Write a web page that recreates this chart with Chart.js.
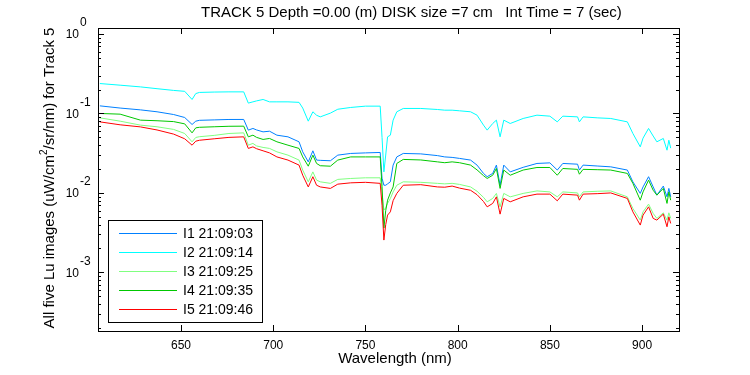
<!DOCTYPE html>
<html>
<head>
<meta charset="utf-8">
<script src="https://cdn.jsdelivr.net/npm/chart.js@4/dist/chart.umd.min.js"></script>
<style>
html,body{margin:0;padding:0;background:#fff;}
canvas{display:block;}
</style>
</head>
<body>
<canvas id="c" width="750" height="375"></canvas>
<script>
// ---- data ----
const wavelengths = [606, 617, 628, 637, 646, 652, 656, 658, 660, 668, 676, 684, 686.5, 689, 691, 694.5, 698, 702, 708, 714, 716, 719, 721.5, 723.5, 725.5, 731, 735, 742, 750, 758, 759, 760, 761, 762, 763.5, 765, 767, 770.5, 780, 789, 793, 797, 801, 807, 810.5, 814, 816, 819, 821, 823, 825, 828.5, 835.5, 843, 850, 854, 857, 865, 866, 868, 876, 883, 892, 895, 899, 900.5, 903.5, 906, 908, 911.5, 913.5, 914.5, 915.5];

const seriesI1 = [0.1247, 0.117, 0.111, 0.105, 0.097, 0.089, 0.0727, 0.080, 0.082, 0.083, 0.084, 0.0841, 0.0617, 0.0648, 0.062, 0.0587, 0.0598, 0.0533, 0.0508, 0.0440, 0.0329, 0.0246, 0.0339, 0.0259, 0.0257, 0.0254, 0.0299, 0.0314, 0.0319, 0.0323, 0.0153, 0.0125, 0.0125, 0.0130, 0.0138, 0.0224, 0.0284, 0.0314, 0.0310, 0.0295, 0.0284, 0.0280, 0.0272, 0.0259, 0.0224, 0.0176, 0.0160, 0.0176, 0.0224, 0.0125, 0.0224, 0.0184, 0.0210, 0.0235, 0.0239, 0.0194, 0.0235, 0.0230, 0.0194, 0.0224, 0.0218, 0.0213, 0.0194, 0.0138, 0.00986, 0.0119, 0.0160, 0.0119, 0.00938, 0.0122, 0.00893, 0.0114, 0.00893];

const seriesI2 = [0.238, 0.227, 0.216, 0.205, 0.195, 0.19, 0.150, 0.178, 0.184, 0.186, 0.187, 0.187, 0.135, 0.140, 0.144, 0.150, 0.140, 0.140, 0.140, 0.138, 0.117, 0.080, 0.105, 0.095, 0.0906, 0.101, 0.113, 0.119, 0.1236, 0.1236, 0.050, 0.0184, 0.030, 0.0508, 0.0533, 0.0824, 0.105, 0.1156, 0.1156, 0.1122, 0.110, 0.110, 0.108, 0.105, 0.0952, 0.0713, 0.0617, 0.0748, 0.0824, 0.0508, 0.0824, 0.0748, 0.0865, 0.0952, 0.0925, 0.0784, 0.0925, 0.0906, 0.0784, 0.0906, 0.088, 0.0865, 0.0784, 0.0560, 0.0380, 0.0489, 0.0648, 0.0520, 0.0440, 0.0485, 0.0345, 0.0461, 0.0366];

const seriesI3 = [0.0881, 0.080, 0.0713, 0.068, 0.063, 0.056, 0.0440, 0.0499, 0.051, 0.053, 0.056, 0.0570, 0.0399, 0.0420, 0.039, 0.0374, 0.0363, 0.0329, 0.0299, 0.0259, 0.0194, 0.0138, 0.0184, 0.0145, 0.0138, 0.0132, 0.0148, 0.0152, 0.0155, 0.0155, 0.010, 0.00608, 0.0065, 0.0074, 0.0085, 0.0103, 0.0125, 0.0138, 0.0136, 0.0132, 0.0130, 0.0132, 0.0128, 0.0119, 0.0105, 0.0088, 0.00773, 0.00853, 0.00986, 0.00668, 0.00986, 0.00893, 0.00986, 0.0106, 0.0103, 0.00893, 0.0103, 0.0100, 0.00893, 0.0103, 0.0105, 0.0106, 0.00893, 0.00638, 0.00455, 0.00578, 0.00723, 0.00552, 0.00478, 0.00562, 0.00455, 0.00562, 0.00478];

const seriesI4 = [0.100, 0.098, 0.0824, 0.081, 0.079, 0.074, 0.0570, 0.0659, 0.067, 0.068, 0.069, 0.0692, 0.0508, 0.0533, 0.050, 0.0471, 0.0485, 0.0440, 0.0399, 0.0363, 0.0284, 0.0217, 0.0299, 0.0235, 0.022, 0.0217, 0.0259, 0.0284, 0.0284, 0.0284, 0.012, 0.00361, 0.0060, 0.0081, 0.0100, 0.0119, 0.0235, 0.0264, 0.0260, 0.0246, 0.0240, 0.0246, 0.0240, 0.0224, 0.0195, 0.0165, 0.0152, 0.0167, 0.0203, 0.0114, 0.0194, 0.0167, 0.0194, 0.0209, 0.0209, 0.0167, 0.0203, 0.0198, 0.0172, 0.0198, 0.0196, 0.0194, 0.0176, 0.0132, 0.0081, 0.0103, 0.0145, 0.0108, 0.00938, 0.0114, 0.00738, 0.0103, 0.0081];

const seriesI5 = [0.0784, 0.072, 0.0678, 0.062, 0.055, 0.048, 0.0399, 0.0448, 0.046, 0.048, 0.050, 0.0508, 0.0363, 0.0380, 0.036, 0.0339, 0.0319, 0.0284, 0.0259, 0.0224, 0.0167, 0.0119, 0.0160, 0.0125, 0.0119, 0.0114, 0.0129, 0.0134, 0.0136, 0.0132, 0.007, 0.00255, 0.0040, 0.00526, 0.00578, 0.0080, 0.00986, 0.0125, 0.0127, 0.0119, 0.0118, 0.0122, 0.0115, 0.0108, 0.0095, 0.0078, 0.00668, 0.00738, 0.00893, 0.00541, 0.00853, 0.00773, 0.00893, 0.00966, 0.00966, 0.00796, 0.00966, 0.00938, 0.00811, 0.00966, 0.0098, 0.0100, 0.00853, 0.00578, 0.00394, 0.00526, 0.00668, 0.00478, 0.00455, 0.00541, 0.00375, 0.0050, 0.00413];

const seriesLabels = ['I1 21:09:03', 'I2 21:09:14', 'I3 21:09:25', 'I4 21:09:35', 'I5 21:09:46'];
const seriesColors = ['#0080ff', '#00ffff', '#80ff80', '#00c800', '#ff0000'];
const xTicks = [650, 700, 750, 800, 850, 900];
const yDecades = [0, -1, -2, -3];
const chartTitle = 'TRACK 5 Depth =0.00 (m) DISK size =7 cm   Int Time = 7 (sec)';
const xTitle = 'Wavelength (nm)';
const yTitleParts = ['All five Lu images (uW/cm', '2', '/sr/nm) for Track 5'];

const allSeries = [seriesI1, seriesI2, seriesI3, seriesI4, seriesI5];
const FONT = '"Liberation Sans", Arial, Helvetica, sans-serif';

const datasets = allSeries.map((s, i) => ({
  label: seriesLabels[i],
  data: wavelengths.map((w, j) => ({x: w, y: s[j]})),
  borderColor: seriesColors[i],
  backgroundColor: seriesColors[i],
  borderWidth: 1,
  pointRadius: 0,
  tension: 0,
  fill: false,
  order: allSeries.length - i
}));

const decor = {
  id: 'decor',
  afterDraw(chart) {
    const ctx = chart.ctx;
    const a = chart.chartArea;
    const xs = chart.scales.x, ys = chart.scales.y;
    ctx.save();
    ctx.strokeStyle = '#000';
    ctx.fillStyle = '#000';
    ctx.lineWidth = 1;
    // box
    ctx.strokeRect(a.left + 0.5, a.top + 0.5, a.right - a.left, a.bottom - a.top);
    // x ticks
    ctx.beginPath();
    xTicks.forEach(v => {
      const px = Math.round(xs.getPixelForValue(v)) + 0.5;
      ctx.moveTo(px, a.bottom); ctx.lineTo(px, a.bottom - 6);
      ctx.moveTo(px, a.top); ctx.lineTo(px, a.top + 6);
    });
    // y ticks (major + minor)
    for (let k = -4; k <= 0; k++) {
      for (let m = 1; m <= 9; m++) {
        const v = m * Math.pow(10, k);
        if (v < ys.min || v > ys.max) continue;
        const py = Math.round(ys.getPixelForValue(v)) + 0.5;
        const len = m === 1 ? 6 : 3;
        ctx.moveTo(a.left, py); ctx.lineTo(a.left + len, py);
        ctx.moveTo(a.right, py); ctx.lineTo(a.right - len, py);
      }
    }
    ctx.stroke();
    // x tick labels
    ctx.font = '12px ' + FONT;
    ctx.textAlign = 'center';
    ctx.textBaseline = 'middle';
    xTicks.forEach(v => {
      ctx.fillText(String(v), xs.getPixelForValue(v), 346);
    });
    // y tick labels 10^k
    yDecades.forEach(k => {
      const py = ys.getPixelForValue(Math.pow(10, k));
      ctx.font = '12px ' + FONT;
      ctx.textAlign = 'right';
      ctx.fillText('10', 79, py + 1);
      ctx.textAlign = 'left';
      ctx.fillText(String(k).replace('-', '-'), 80, py - 11);
    });
    // x title
    ctx.font = '15px ' + FONT;
    ctx.textAlign = 'center';
    ctx.fillText(xTitle, 395, 359);
    // chart title
    ctx.textAlign = 'left';
    ctx.fillText(chartTitle, 201, 13);
    // y title (rotated, with superscript)
    ctx.save();
    ctx.translate(50, 178);
    ctx.rotate(-Math.PI / 2);
    ctx.font = '15px ' + FONT;
    const w1 = ctx.measureText(yTitleParts[0]).width;
    ctx.font = '10px ' + FONT;
    const w2 = ctx.measureText(yTitleParts[1]).width;
    ctx.font = '15px ' + FONT;
    const w3 = ctx.measureText(yTitleParts[2]).width;
    let xx = -(w1 + w2 + w3) / 2;
    ctx.textAlign = 'left';
    ctx.fillText(yTitleParts[0], xx, 0); xx += w1;
    ctx.font = '10px ' + FONT;
    ctx.fillText(yTitleParts[1], xx, -6); xx += w2;
    ctx.font = '15px ' + FONT;
    ctx.fillText(yTitleParts[2], xx, 0);
    ctx.restore();
    // legend
    const lx = 108, ly = 220, lw = 154, lh = 102;
    ctx.fillStyle = '#fff';
    ctx.fillRect(lx, ly, lw, lh);
    ctx.strokeStyle = '#000';
    ctx.strokeRect(lx + 0.5, ly + 0.5, lw, lh);
    ctx.font = '14px ' + FONT;
    ctx.textAlign = 'left';
    ctx.textBaseline = 'middle';
    chart.data.datasets.forEach((ds, i) => {
      const ry = ly + 13 + i * 19;
      ctx.strokeStyle = ds.borderColor;
      ctx.beginPath();
      ctx.moveTo(119, ry + 0.5); ctx.lineTo(177, ry + 0.5);
      ctx.stroke();
      ctx.fillStyle = '#000';
      ctx.fillText(ds.label, 183, ry + 1);
    });
    ctx.restore();
  }
};

new Chart(document.getElementById('c'), {
  type: 'line',
  data: { datasets },
  options: {
    responsive: false,
    animation: false,
    devicePixelRatio: 1,
    layout: { padding: { left: 0, right: 71, top: 28, bottom: 0 } },
    plugins: { legend: { display: false }, tooltip: { enabled: false }, title: { display: false } },
    elements: { point: { radius: 0 }, line: { tension: 0 } },
    scales: {
      x: {
        type: 'linear', min: 605, max: 920,
        ticks: { display: false }, grid: { display: false }, border: { display: false },
        afterFit(s) { s.height = 44; }
      },
      y: {
        type: 'logarithmic', min: 1.83e-4, max: 1.19,
        ticks: { display: false }, grid: { display: false }, border: { display: false },
        afterFit(s) { s.width = 98; }
      }
    }
  },
  plugins: [decor]
});
</script>
</body>
</html>
